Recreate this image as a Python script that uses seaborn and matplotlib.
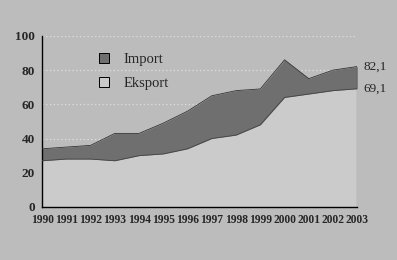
import matplotlib
matplotlib.use("Agg")
import pandas as pd
import seaborn as sns
import matplotlib.pyplot as plt
from matplotlib.lines import Line2D

years = list(range(1990, 2004))
imports = [34, 35, 36, 43, 43, 49, 56, 65, 68, 69, 86, 75, 80, 82.1]
exports = [27, 28, 28, 27, 30, 31, 34, 40, 42, 48, 64, 66, 68, 69.1]

df = pd.DataFrame({"year": years, "Import": imports, "Eksport": exports})

sns.set_style("white")
plt.rcParams["font.family"] = ["Liberation Serif", "DejaVu Serif"]

bg = "#bcbcbc"
dark = "#6f6f6f"
light = "#cbcbcb"

fig = plt.figure(figsize=(3.97, 2.6), dpi=100, facecolor=bg)
ax = fig.add_axes([0.106, 0.204, 0.794, 0.658])
ax.set_facecolor(bg)

for v in [40, 60, 80, 100]:
    ax.axhline(v, color="#dedede", lw=0.9, ls=(0, (1, 2)), zorder=0)

ax.fill_between(df["year"], 0, df["Import"], color=dark, lw=0, zorder=1)
ax.fill_between(df["year"], 0, df["Eksport"], color=light, lw=0, zorder=2)
sns.lineplot(data=df, x="year", y="Import", ax=ax, color="#333333", lw=0.6, zorder=3)
sns.lineplot(data=df, x="year", y="Eksport", ax=ax, color="#444444", lw=0.6, zorder=3)
ax.vlines(years[-1], 0, imports[-1], color="#222222", lw=0.8, zorder=3)

ax.set_xlim(1990, 2003)
ax.set_ylim(0, 100)
ax.set_xticks(years)
ax.set_xticklabels([str(y) for y in years], fontsize=8.3, fontweight="bold", fontstretch="condensed")
ax.set_yticks([0, 20, 40, 60, 80, 100])
ax.set_yticklabels(["0", "20", "40", "60", "80", "100"], fontsize=9.5, fontweight="bold")
ax.tick_params(axis="both", length=3, width=0.8, color="black", pad=2)
ax.set_xlabel("")
ax.set_ylabel("")
for s in ["top", "right"]:
    ax.spines[s].set_visible(False)
for s in ["left", "bottom"]:
    ax.spines[s].set_color("black")
    ax.spines[s].set_linewidth(1.0)

ax.text(2003.25, imports[-1], "82,1", fontsize=9.5, va="center", ha="left")
ax.text(2003.25, exports[-1], "69,1", fontsize=9.5, va="center", ha="left")

handles = [
    Line2D([], [], marker="s", ls="", markersize=7, markerfacecolor=dark, markeredgecolor="black", markeredgewidth=0.7),
    Line2D([], [], marker="s", ls="", markersize=7, markerfacecolor=light, markeredgecolor="black", markeredgewidth=0.7),
]
ax.legend(handles, ["Import", "Eksport"], loc="upper left", bbox_to_anchor=(0.11, 0.98),
          frameon=False, fontsize=10.5, handletextpad=0.3, labelspacing=0.75)

fig.savefig("out.png", dpi=100, facecolor=bg)
